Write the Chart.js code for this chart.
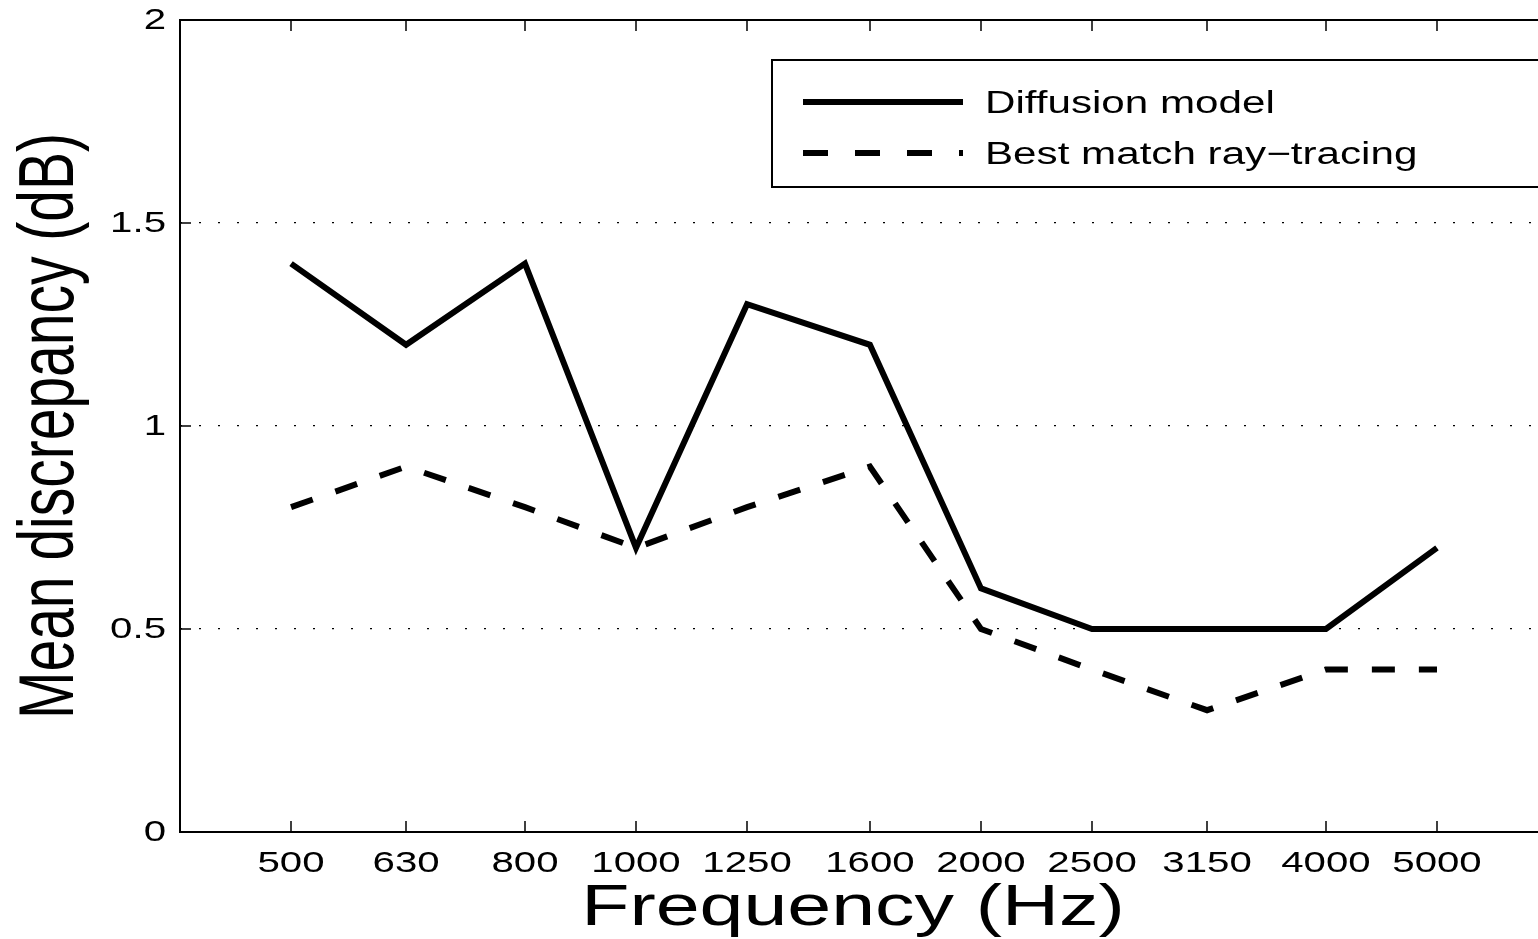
<!DOCTYPE html>
<html>
<head>
<meta charset="utf-8">
<script src="https://cdn.jsdelivr.net/npm/chart.js@4.4.1/dist/chart.umd.min.js"></script>
<style>
  html, body { margin: 0; padding: 0; background: #fff; overflow: hidden; }
  #wrap { width: 1560px; height: 939px; }
</style>
</head>
<body>
<div id="wrap"><canvas id="chart" width="1560" height="939"></canvas></div>
<script>
// data
const freqs = [500, 630, 800, 1000, 1250, 1600, 2000, 2500, 3150, 4000, 5000];
const diffusion = [1.4, 1.2, 1.4, 0.7, 1.3, 1.2, 0.6, 0.5, 0.5, 0.5, 0.7];
const rayTracing = [0.8, 0.9, 0.8, 0.7, 0.8, 0.9, 0.5, 0.4, 0.3, 0.4, 0.4];
const xTickLabels = ['500', '630', '800', '1000', '1250', '1600', '2000', '2500', '3150', '4000', '5000'];
const yTicks = [0, 0.5, 1, 1.5, 2];
const yTickLabels = ['0', '0.5', '1', '1.5', '2'];
const seriesNames = ['Diffusion model', 'Best match ray\u2212tracing'];

const FONT = '"Liberation Sans", Arial, Helvetica, sans-serif';
const SX = 1.34; // text in the figure is stretched sideways

function wideText(ctx, text, x, y, size, align, baseline, sx, rot) {
  ctx.save();
  ctx.translate(x, y);
  ctx.scale(sx, 1);
  if (rot) ctx.rotate(rot);
  ctx.font = size + 'px ' + FONT;
  ctx.fillStyle = '#000';
  ctx.textAlign = align;
  ctx.textBaseline = baseline;
  ctx.fillText(text, 0, 0);
  ctx.restore();
}

const axesPlugin = {
  id: 'matlabAxes',
  afterDraw(chart) {
    const ctx = chart.ctx;
    const a = chart.chartArea;
    const xs = chart.scales.x, ys = chart.scales.y;
    const tick = 11;

    ctx.save();
    ctx.strokeStyle = '#000';
    // inward tick marks
    ctx.lineWidth = 1.5;
    ctx.beginPath();
    freqs.forEach(f => {
      const px = Math.round(xs.getPixelForValue(f));
      ctx.moveTo(px, a.bottom); ctx.lineTo(px, a.bottom - tick);
      ctx.moveTo(px, a.top); ctx.lineTo(px, a.top + tick);
    });
    yTicks.forEach(v => {
      const py = Math.round(ys.getPixelForValue(v));
      ctx.moveTo(a.left, py); ctx.lineTo(a.left + tick, py);
      ctx.moveTo(a.right, py); ctx.lineTo(a.right - tick, py);
    });
    ctx.stroke();
    // box
    ctx.lineWidth = 2;
    ctx.strokeRect(a.left, a.top, a.right - a.left, a.bottom - a.top);

    // tick labels
    freqs.forEach((f, i) => {
      wideText(ctx, xTickLabels[i], xs.getPixelForValue(f), 872, 30, 'center', 'alphabetic', SX);
    });
    yTicks.forEach((v, i) => {
      wideText(ctx, yTickLabels[i], 166, ys.getPixelForValue(v) + 1, 30, 'right', 'middle', SX);
    });

    // axis titles
    wideText(ctx, 'Frequency (Hz)', 853, 925, 58, 'center', 'alphabetic', 1.36);
    wideText(ctx, 'Mean discrepancy (dB)', 73, (a.top + a.bottom) / 2, 57, 'center', 'alphabetic', 1.36, -Math.PI / 2);

    // legend box
    const lx = 772, ly = 60, lb = 187;
    ctx.fillStyle = '#fff';
    ctx.fillRect(lx, ly, 1600 - lx, lb - ly);
    ctx.lineWidth = 2;
    ctx.strokeRect(lx, ly, 1600 - lx, lb - ly);
    ctx.lineWidth = 6;
    ctx.lineCap = 'butt';
    ctx.beginPath();
    ctx.moveTo(803, 102); ctx.lineTo(963, 102);
    ctx.stroke();
    ctx.setLineDash([25, 27]);
    ctx.beginPath();
    ctx.moveTo(803, 153); ctx.lineTo(963, 153);
    ctx.stroke();
    ctx.setLineDash([]);
    ctx.restore();
    wideText(ctx, seriesNames[0], 985, 113, 31, 'left', 'alphabetic', 1.36);
    wideText(ctx, seriesNames[1], 985, 164, 31, 'left', 'alphabetic', 1.36);
  }
};

new Chart(document.getElementById('chart'), {
  type: 'line',
  data: {
    datasets: [
      {
        label: seriesNames[0],
        data: freqs.map((f, i) => ({ x: f, y: diffusion[i] })),
        borderColor: '#000',
        borderWidth: 6,
        borderJoinStyle: 'miter',
        borderCapStyle: 'butt'
      },
      {
        label: seriesNames[1],
        data: freqs.map((f, i) => ({ x: f, y: rayTracing[i] })),
        borderColor: '#000',
        borderWidth: 6,
        borderDash: [23, 24],
        borderJoinStyle: 'miter',
        borderCapStyle: 'butt'
      }
    ]
  },
  options: {
    responsive: false,
    devicePixelRatio: 1,
    animation: false,
    layout: { padding: { left: 180, top: 20, right: 8, bottom: 107 } },
    elements: { point: { radius: 0 }, line: { tension: 0 } },
    plugins: { legend: { display: false }, tooltip: { enabled: false } },
    scales: {
      x: {
        type: 'logarithmic',
        min: 400,
        max: 6300,
        afterBuildTicks: s => { s.ticks = freqs.map(v => ({ value: v })); },
        ticks: { display: false },
        grid: { display: false, drawTicks: false },
        border: { display: false }
      },
      y: {
        min: 0,
        max: 2,
        afterBuildTicks: s => { s.ticks = yTicks.map(v => ({ value: v })); },
        ticks: { display: false },
        grid: {
          drawTicks: false,
          lineWidth: 1.2,
          color: c => (c.tick && (c.tick.value === 0 || c.tick.value === 2)) ? 'rgba(0,0,0,0)' : '#000'
        },
        border: { display: false, dash: [2, 17] }
      }
    }
  },
  plugins: [axesPlugin]
});
</script>
</body>
</html>
